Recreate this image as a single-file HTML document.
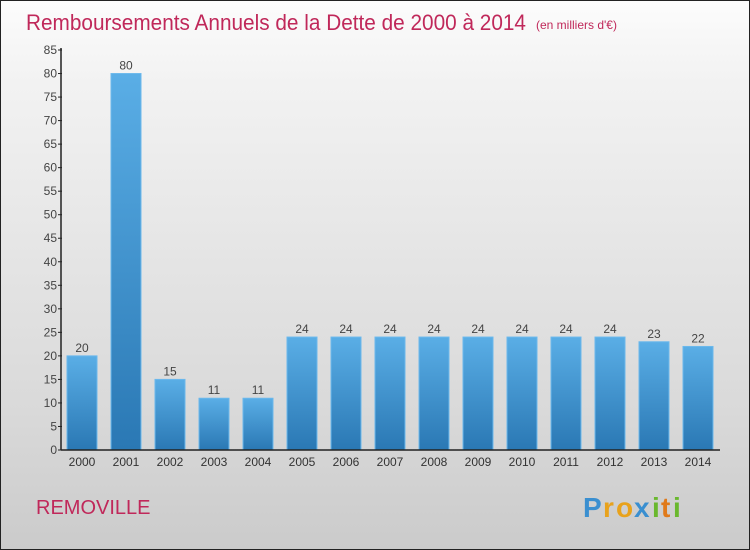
<!DOCTYPE html>
<html><head><meta charset="utf-8"><style>
html,body{margin:0;padding:0}
body{width:750px;height:550px;overflow:hidden;font-family:"Liberation Sans",sans-serif}
#wrap{position:absolute;left:0;top:0;width:748px;height:548px;border:1px solid #222;background:linear-gradient(#fcfcfc,#f2f2f2 15%,#d9d9d9 75%,#cbcbcb)}
</style></head><body>
<div id="wrap">
<svg id="chart" width="750" height="550" style="position:absolute;left:-1px;top:-1px">
<defs><linearGradient id="bg" x1="0" y1="0" x2="0" y2="1"><stop offset="0" stop-color="#5aaee6"/><stop offset="1" stop-color="#2a78b4"/></linearGradient></defs>
<text x="26" y="30" font-size="22" fill="#c0285a" textLength="500" lengthAdjust="spacingAndGlyphs">Remboursements Annuels de la Dette de 2000 à 2014</text>
<text x="536" y="29" font-size="12" fill="#c0285a">(en milliers d'€)</text>
<text x="36" y="514" font-size="20" fill="#c0285a">REMOVILLE</text>
<g font-size="28" font-weight="bold">
<text x="583" y="517" fill="#3a8fd0">P</text><text x="603" y="517" fill="#e8a21c">r</text><text x="616" y="517" fill="#e8a21c">o</text><text x="634" y="517" fill="#3a8fd0">x</text><text x="652" y="517" fill="#6ab82e">i</text><text x="661" y="517" fill="#e07a1a">t</text><text x="673" y="517" fill="#6ab82e">i</text>
</g>
</svg>
</div>
<script>
const categories=["2000","2001","2002","2003","2004","2005","2006","2007","2008","2009","2010","2011","2012","2013","2014"];
const values=[20,80,15,11,11,24,24,24,24,24,24,24,24,23,22];
const yTicks=[0,5,10,15,20,25,30,35,40,45,50,55,60,65,70,75,80,85];
const svg=document.getElementById('chart');const NS='http://www.w3.org/2000/svg';
const y0=450,yTop=50,yMax=85,axX=61;
function ys(v){return y0-(v/yMax)*(y0-yTop);}
function xs(i){return 82+i*44;}
function mk(t,a,txt){const e=document.createElementNS(NS,t);for(const k in a)e.setAttribute(k,a[k]);if(txt!==undefined)e.textContent=txt;svg.appendChild(e);return e;}
yTicks.forEach(v=>{
const l=mk('line',{x1:axX-3,x2:axX+1,y1:ys(v),y2:ys(v),stroke:'#222'});


const t=mk('text',{x:axX-4,y:ys(v)+4,'font-size':12,fill:'#444','text-anchor':'end'},v);


});
categories.forEach((c,i)=>{
const v=values[i];
const r=mk('rect',{x:xs(i)-15,y:ys(v),width:30,height:y0-ys(v),fill:'url(#bg)',stroke:'#6bb8ec','stroke-width':1});


const vl=mk('text',{x:xs(i),y:ys(v)-4,'font-size':12,fill:'#444','text-anchor':'middle'},v);


const xl=mk('text',{x:xs(i),y:466,'font-size':12,fill:'#333','text-anchor':'middle'},c);


});
const ya=mk('line',{x1:axX,x2:axX,y1:yTop-2,y2:y0,stroke:'#222','stroke-width':1.5});


const xa=mk('line',{x1:axX,x2:720,y1:y0,y2:y0,stroke:'#222','stroke-width':1.5});


</script>
</body></html>
